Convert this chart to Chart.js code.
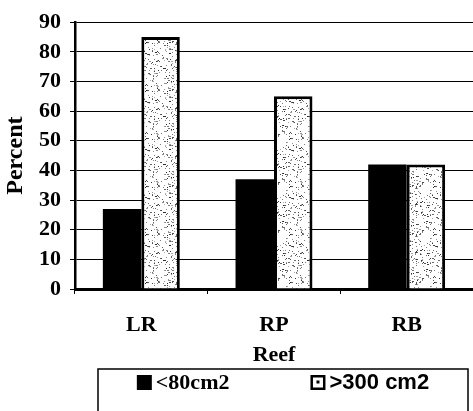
<!DOCTYPE html>
<html>
<head>
<meta charset="utf-8">
<script src="https://cdn.jsdelivr.net/npm/chart.js@4/dist/chart.umd.min.js"></script>
<style>
  html, body { margin: 0; padding: 0; background: #fff; }
  #wrap { width: 473px; height: 411px; }
</style>
</head>
<body>
<div id="wrap"><canvas id="reef-chart"></canvas></div>
<script>
// data
const reefs = ["LR", "RP", "RB"];
const smallCoral = [27, 37, 42];   // <80cm2
const largeCoral = [85, 65, 42];   // >300 cm2
const seriesNames = ["<80cm2", ">300 cm2"];
const yTicks = [0, 10, 20, 30, 40, 50, 60, 70, 80, 90];

const SERIF = "'Liberation Serif', 'Times New Roman', serif";
const SANS = "'Liberation Sans', Arial, sans-serif";

// speckled fill used for the large-colony bars
const makeSpeckle = () => {
    const c = document.createElement("canvas");
    c.width = 48;
    c.height = 48;
    const g = c.getContext("2d");
    g.fillStyle = "#fff";
    g.fillRect(0, 0, 48, 48);
    let s = 12345;
    const next = () => {
        s = (s * 1103515245 + 12345) % 2147483648;
        return s / 2147483648;
    };
    for (let i = 0; i < 260; i++) {
        const x = Math.floor(next() * 48);
        const y = Math.floor(next() * 48);
        const shade = 40 + Math.floor(next() * 140);
        g.fillStyle = `rgb(${shade},${shade},${shade})`;
        g.fillRect(x, y, next() < 0.2 ? 2 : 1, 1);
    }
    return g.createPattern(c, "repeat");
};

const boxedLegend = {
    id: "boxedLegend",
    afterDraw(chart) {
        const { ctx, chartArea } = chart;
        const top = chartArea.bottom + 80;
        const left = chartArea.left + 23;
        const right = chartArea.right - 5;
        ctx.save();
        ctx.strokeStyle = "#000";
        ctx.lineWidth = 1.5;
        ctx.strokeRect(left, top, right - left, 60);

        const fonts = ["bold 22px " + SERIF, "bold 22px " + SANS];
        const sw = 15, gapText = 4, gapItems = 81;
        const widths = chart.data.datasets.map((ds, i) => {
            ctx.font = fonts[i];
            return sw + gapText + ctx.measureText(ds.label).width;
        });
        const total = widths.reduce((a, b) => a + b, 0) + gapItems;
        let x = (left + right) / 2 - total / 2;
        const cy = top + 13;
        chart.data.datasets.forEach((ds, i) => {
            if (i === 0) {
                ctx.fillStyle = "#000";
                ctx.fillRect(x, cy - 7, sw, sw);
            } else {
                ctx.fillStyle = "#fff";
                ctx.fillRect(x, cy - 7, sw, sw);
                ctx.lineWidth = 2.5;
                ctx.strokeStyle = "#000";
                ctx.strokeRect(x + 1.25, cy - 5.75, sw - 2.5, sw - 2.5);
                ctx.fillStyle = "#000";
                ctx.fillRect(x + sw / 2 - 1.5, cy - 0.5 - 1, 3, 3);
            }
            ctx.font = fonts[i];
            ctx.fillStyle = "#000";
            ctx.textBaseline = "middle";
            ctx.textAlign = "left";
            ctx.fillText(ds.label, x + sw + gapText, cy + 1);
            x += widths[i] + gapItems;
        });
        ctx.restore();
    },
};

const drawReefChart = () => {
    const ctx = document.getElementById("reef-chart").getContext("2d");
    new Chart(ctx, {
        type: "bar",
        data: {
            labels: reefs,
            datasets: [
                {
                    label: seriesNames[0],
                    data: smallCoral,
                    backgroundColor: "#000",
                    borderWidth: 0,
                },
                {
                    label: seriesNames[1],
                    data: largeCoral,
                    backgroundColor: makeSpeckle(),
                    borderColor: "#000",
                    borderWidth: 3,
                },
            ],
        },
        options: {
            responsive: true,
            maintainAspectRatio: false,
            animation: false,
            layout: { padding: { top: 17, right: 0, bottom: 42, left: 0 } },
            datasets: {
                bar: { barPercentage: 1, categoryPercentage: 0.58 },
            },
            plugins: {
                legend: { display: false },
                tooltip: { enabled: false },
            },
            scales: {
                x: {
                    afterFit: (scale) => { scale.height = 80; },
                    grid: {
                        drawOnChartArea: false,
                        drawTicks: true,
                        tickLength: 5,
                        color: "#000",
                    },
                    border: { color: "#000", width: 3 },
                    ticks: {
                        color: "#000",
                        padding: 18,
                        font: { family: SERIF, size: 22, weight: "bold" },
                    },
                    title: {
                        display: true,
                        text: "Reef",
                        color: "#000",
                        padding: { top: 0, bottom: 0 },
                        font: { family: SERIF, size: 22, weight: "bold" },
                    },
                },
                y: {
                    min: 0,
                    max: 90,
                    afterFit: (scale) => { scale.width = 75; },
                    afterBuildTicks: (scale) => {
                        scale.ticks = yTicks.map((v) => ({ value: v }));
                    },
                    grid: { color: "#000", lineWidth: 1, tickLength: 5 },
                    border: { color: "#000", width: 2.5 },
                    ticks: {
                        color: "#000",
                        padding: 9,
                        font: { family: SERIF, size: 22, weight: "bold" },
                    },
                    title: {
                        display: true,
                        text: "Percent",
                        color: "#000",
                        padding: { top: 1, bottom: 0 },
                        font: { family: SERIF, size: 24, weight: "bold" },
                    },
                },
            },
        },
        plugins: [boxedLegend],
    });
};

document.addEventListener("DOMContentLoaded", () => {
    drawReefChart();
});
</script>
</body>
</html>
